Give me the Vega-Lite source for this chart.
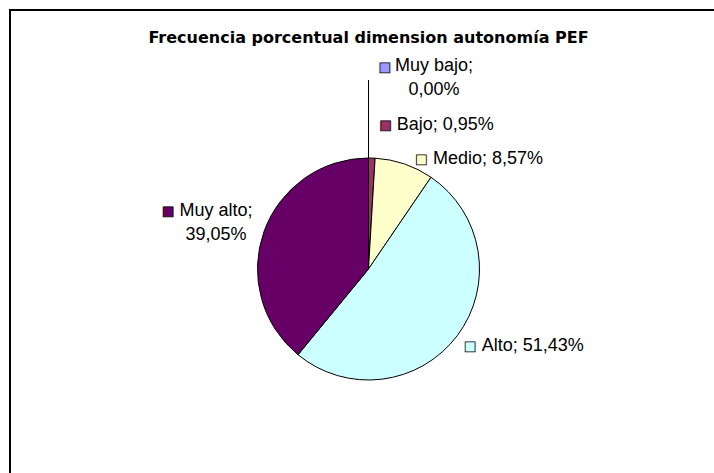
{
  "$schema": "https://vega.github.io/schema/vega-lite/v6.json",
  "width": 717,
  "height": 518,
  "autosize": {"type": "none"},
  "padding": {"left": 10, "top": 10, "right": -13, "bottom": -55},
  "background": "white",
  "view": {"stroke": "#000", "strokeWidth": 2},
  "title": {
    "text": "Frecuencia porcentual dimension autonomía PEF",
    "font": "DejaVu Sans",
    "fontSize": 16,
    "fontWeight": "bold",
    "color": "#000",
    "anchor": "middle",
    "baseline": "alphabetic",
    "offset": -49
  },
  "data": {
    "values": [
      {"orden": 1, "categoria": "Muy bajo", "porcentaje": 0.0, "etiqueta": "Muy bajo;\n0,00%"},
      {"orden": 2, "categoria": "Bajo", "porcentaje": 0.95, "etiqueta": "Bajo; 0,95%"},
      {"orden": 3, "categoria": "Medio", "porcentaje": 8.57, "etiqueta": "Medio; 8,57%"},
      {"orden": 4, "categoria": "Alto", "porcentaje": 51.43, "etiqueta": "Alto; 51,43%"},
      {"orden": 5, "categoria": "Muy alto", "porcentaje": 39.05, "etiqueta": "Muy alto;\n39,05%"}
    ]
  },
  "encoding": {
    "theta": {"field": "porcentaje", "type": "quantitative", "stack": true},
    "order": {"field": "orden", "type": "quantitative"}
  },
  "layer": [
    {
      "mark": {"type": "arc", "outerRadius": 111, "stroke": "#000", "strokeWidth": 1},
      "encoding": {
        "color": {
          "field": "categoria", "type": "nominal", "legend": null,
          "scale": {"domain": ["Muy bajo", "Bajo", "Medio", "Alto", "Muy alto"], "range": ["#9999FF", "#993366", "#FFFFCC", "#CCFFFF", "#660066"]}
        }
      }
    },
    {
      "mark": {"type": "arc", "innerRadius": 111, "outerRadius": 189, "fill": "transparent", "stroke": "#000", "strokeWidth": 1},
      "encoding": {
        "strokeOpacity": {"condition": {"test": "datum.categoria === 'Muy bajo'", "value": 1}, "value": 0}
      }
    },
    {
      "mark": {"type": "text", "radius": 198, "dx": 65.5, "dy": 0, "align": "center", "baseline": "alphabetic", "lineBreak": "\n", "lineHeight": 24, "font": "Liberation Sans", "fontSize": 18, "fill": "#000"},
      "encoding": {"text": {"condition": {"test": "datum.categoria === 'Muy bajo'", "field": "etiqueta", "type": "nominal"}, "value": ""}}
    },
    {
      "mark": {"type": "text", "radius": 139, "dx": 24.1, "dy": 0, "align": "left", "baseline": "alphabetic", "font": "Liberation Sans", "fontSize": 18, "fill": "#000"},
      "encoding": {"text": {"condition": {"test": "datum.categoria === 'Bajo'", "field": "etiqueta", "type": "nominal"}, "value": ""}}
    },
    {
      "mark": {"type": "text", "radius": 111, "dx": 28.6, "dy": 0, "align": "left", "baseline": "alphabetic", "font": "Liberation Sans", "fontSize": 18, "fill": "#000"},
      "encoding": {"text": {"condition": {"test": "datum.categoria === 'Medio'", "field": "etiqueta", "type": "nominal"}, "value": ""}}
    },
    {
      "mark": {"type": "text", "radius": 120, "dx": 17.2, "dy": 10.5, "align": "left", "baseline": "alphabetic", "font": "Liberation Sans", "fontSize": 18, "fill": "#000"},
      "encoding": {"text": {"condition": {"test": "datum.categoria === 'Alto'", "field": "etiqueta", "type": "nominal"}, "value": ""}}
    },
    {
      "mark": {"type": "text", "radius": 120, "dx": -39.5, "dy": -12.8, "align": "center", "baseline": "alphabetic", "lineBreak": "\n", "lineHeight": 24, "font": "Liberation Sans", "fontSize": 18, "fill": "#000"},
      "encoding": {"text": {"condition": {"test": "datum.categoria === 'Muy alto'", "field": "etiqueta", "type": "nominal"}, "value": ""}}
    },
    {
      "mark": {"type": "text", "text": "■", "radius": 202.5, "dx": 16.5, "dy": 0, "align": "center", "baseline": "middle", "font": "DejaVu Sans", "fontSize": 13, "stroke": "#000", "strokeWidth": 0.8},
      "encoding": {
        "color": {"field": "categoria", "type": "nominal", "legend": null},
        "opacity": {"condition": {"test": "datum.categoria === 'Muy bajo'", "value": 1}, "value": 0}
      }
    },
    {
      "mark": {"type": "text", "text": "■", "radius": 139, "dx": 13.1, "dy": -5.1, "align": "center", "baseline": "middle", "font": "DejaVu Sans", "fontSize": 13, "stroke": "#000", "strokeWidth": 0.8},
      "encoding": {
        "color": {"field": "categoria", "type": "nominal", "legend": null},
        "opacity": {"condition": {"test": "datum.categoria === 'Bajo'", "value": 1}, "value": 0}
      }
    },
    {
      "mark": {"type": "text", "text": "■", "radius": 111, "dx": 17.1, "dy": -5, "align": "center", "baseline": "middle", "font": "DejaVu Sans", "fontSize": 13, "stroke": "#000", "strokeWidth": 0.8},
      "encoding": {
        "color": {"field": "categoria", "type": "nominal", "legend": null},
        "opacity": {"condition": {"test": "datum.categoria === 'Medio'", "value": 1}, "value": 0}
      }
    },
    {
      "mark": {"type": "text", "text": "■", "radius": 120, "dx": 5.5, "dy": 5, "align": "center", "baseline": "middle", "font": "DejaVu Sans", "fontSize": 13, "stroke": "#000", "strokeWidth": 0.8},
      "encoding": {
        "color": {"field": "categoria", "type": "nominal", "legend": null},
        "opacity": {"condition": {"test": "datum.categoria === 'Alto'", "value": 1}, "value": 0}
      }
    },
    {
      "mark": {"type": "text", "text": "■", "radius": 120, "dx": -87.5, "dy": -18, "align": "center", "baseline": "middle", "font": "DejaVu Sans", "fontSize": 13, "stroke": "#000", "strokeWidth": 0.8},
      "encoding": {
        "color": {"field": "categoria", "type": "nominal", "legend": null},
        "opacity": {"condition": {"test": "datum.categoria === 'Muy alto'", "value": 1}, "value": 0}
      }
    }
  ]
}
